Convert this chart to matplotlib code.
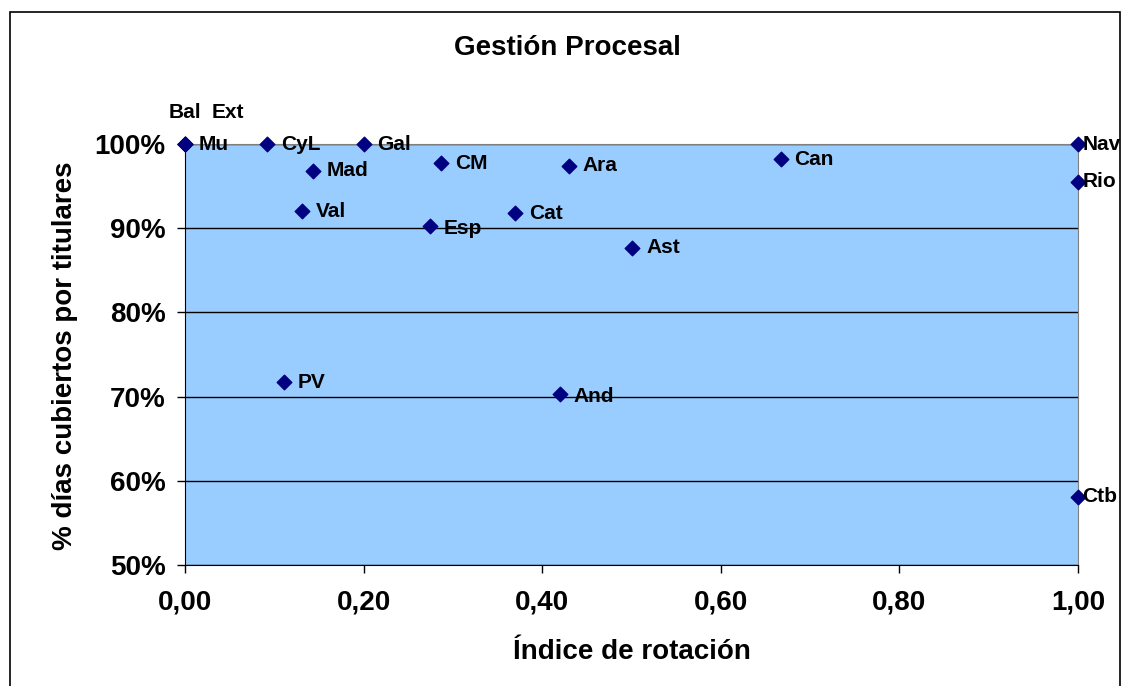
import matplotlib.pyplot as plt
from matplotlib.patches import Rectangle
from matplotlib.ticker import FuncFormatter

plt.rcParams['font.family'] = ['Liberation Sans', 'DejaVu Sans']

# Datos: índice de rotación y % días cubiertos por titulares
regiones = ['Mu', 'Bal', 'Ext', 'CyL', 'Gal', 'Mad', 'CM', 'Val', 'Esp', 'Ara',
            'Can', 'Cat', 'Ast', 'Nav', 'Rio', 'Ctb', 'PV', 'And']
rotacion = [0.0, 0.0, 0.0, 0.092, 0.20, 0.143, 0.287, 0.131, 0.274, 0.43,
            0.667, 0.37, 0.501, 1.0, 1.0, 1.0, 0.111, 0.42]
cubiertos = [1.0, 1.0, 1.0, 1.0, 1.0, 0.968, 0.977, 0.920, 0.903, 0.974,
             0.982, 0.918, 0.877, 1.0, 0.955, 0.581, 0.717, 0.703]

# desplazamiento de las etiquetas (en puntos)
offsets = {'Bal': (-12, 23), 'Ext': (19, 23), 'Esp': (10, -2), 'And': (10, -2),
           'Nav': (3, 0), 'Rio': (3, 0), 'Ctb': (3, 0)}

fig = plt.figure(figsize=(11.22, 6.86), dpi=100)
ax = fig.add_axes([185 / 1122, 121 / 686, 893 / 1122, 421 / 686])
ax.set_facecolor('#99CCFF')

ax.scatter(rotacion, cubiertos, marker='D', s=55, color='#000080', zorder=3, clip_on=False)

for r, x, y in zip(regiones, rotacion, cubiertos):
    dx, dy = offsets.get(r, (10, 0))
    ax.annotate(r, (x, y), xytext=(dx, dy), textcoords='offset points',
                ha='left', va='center', fontsize=15, fontweight='bold',
                annotation_clip=False, zorder=4)

ax.set_xlim(0, 1)
ax.set_ylim(0.5, 1.0)
ax.set_xticks([0, 0.2, 0.4, 0.6, 0.8, 1.0])
ax.set_yticks([0.5, 0.6, 0.7, 0.8, 0.9, 1.0])
ax.xaxis.set_major_formatter(FuncFormatter(lambda v, p: f'{v:.2f}'.replace('.', ',')))
ax.yaxis.set_major_formatter(FuncFormatter(lambda v, p: f'{v * 100:.0f}%'))
ax.tick_params(axis='both', direction='out', length=6, width=1, labelsize=20)
ax.tick_params(axis='y', pad=8)
ax.tick_params(axis='x', pad=12)
for lbl in ax.get_xticklabels() + ax.get_yticklabels():
    lbl.set_fontweight('bold')

ax.grid(axis='y', color='black', linewidth=1)
ax.set_axisbelow(True)
ax.spines['left'].set_color('black')
ax.spines['bottom'].set_color('black')
ax.spines['top'].set_color('#808080')
ax.spines['right'].set_color('#808080')

fig.text(567 / 1122, 1 - 48 / 686, 'Gestión Procesal', ha='center', va='center',
         fontsize=20, fontweight='bold')
fig.text(632 / 1122, 1 - 652 / 686, 'Índice de rotación', ha='center', va='center',
         fontsize=20, fontweight='bold')
fig.text(65 / 1122, 1 - 356 / 686, '% días cubiertos por titulares', ha='center', va='center',
         rotation=90, fontsize=20, fontweight='bold')

# marco exterior del gráfico
fig.patches.append(Rectangle((9.5 / 1122, -0.05), 1110 / 1122, 1.05 - 12.5 / 686,
                             transform=fig.transFigure, fill=False,
                             edgecolor='black', linewidth=1.2))

fig.savefig('out.png', dpi=100)
